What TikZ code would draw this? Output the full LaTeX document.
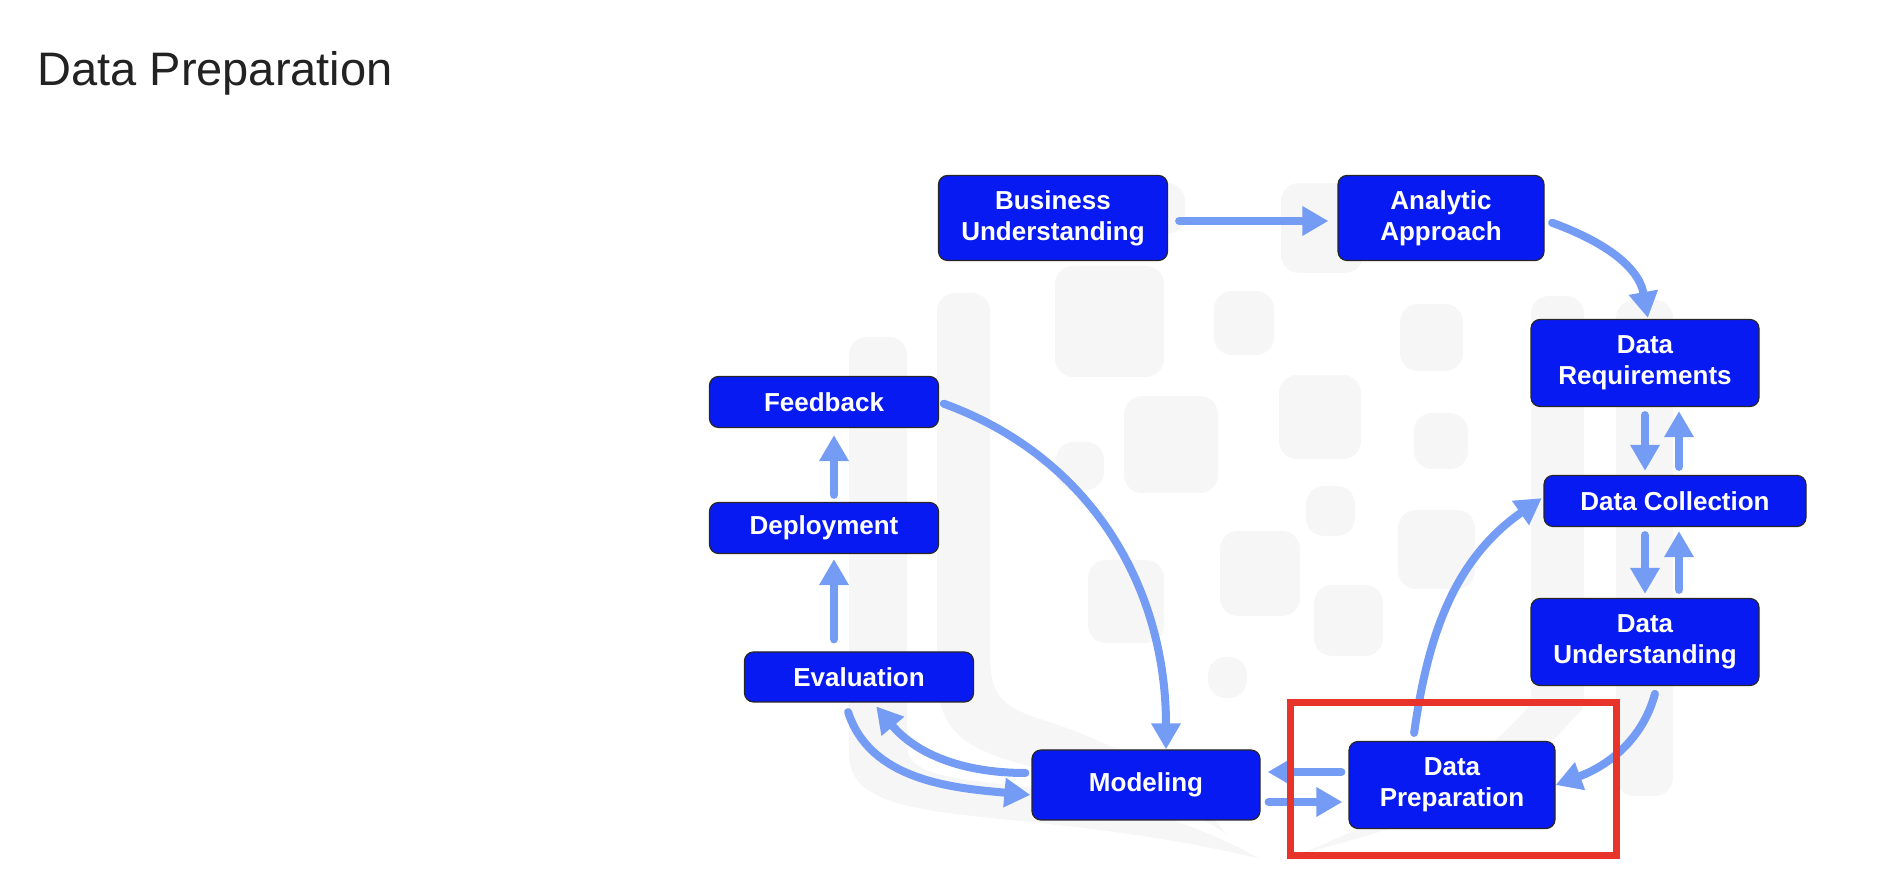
\documentclass[tikz,border=0pt]{standalone}
\usepackage{fontspec}
\setmainfont{Liberation Sans}
\usepackage{xcolor}
\usetikzlibrary{arrows.meta}
\definecolor{boxblue}{RGB}{8,26,242}
\definecolor{flowblue}{RGB}{117,156,245}
\definecolor{markred}{RGB}{232,51,42}
\definecolor{wmgray}{RGB}{246,246,246}
\definecolor{titlegray}{RGB}{34,34,34}

\begin{document}
\begin{tikzpicture}[
  x=0.5pt,y=0.5pt,
  box/.style={draw=black!85,line width=0.6pt,fill=boxblue,rounded corners=4.5pt,align=center,text=white,
    font=\bfseries\fontsize{13}{15.5}\selectfont,inner sep=0pt},
  arrow/.style={-{Triangle[length=13pt,width=14pt]},line width=4pt,draw=flowblue,line cap=round,
    shorten <=4pt,shorten >=2pt},
  wm/.style={fill=wmgray,rounded corners=9pt}
]
\useasboundingbox (0,0) rectangle (1892,894);

\fill[wm] (1055,517) rectangle (1164,628);
\fill[wm] (1214,539) rectangle (1274,603);
\fill[wm] (1400,523) rectangle (1463,590);
\fill[wm] (1281,621) rectangle (1363,711);
\fill[wm] (1120,660) rectangle (1185,711);
\fill[wm] (1124,401) rectangle (1218,498);
\fill[wm] (1279,435) rectangle (1361,519);
\fill[wm] (1056,404) rectangle (1104,452);
\fill[wm] (1414,425) rectangle (1468,481);
\fill[wm] (1306,358) rectangle (1355,408);
\fill[wm] (1220,278) rectangle (1300,363);
\fill[wm] (1398,305) rectangle (1475,384);
\fill[wm] (1088,251) rectangle (1164,334);
\fill[wm] (1314,238) rectangle (1383,309);
\fill[wm] (1208,196) rectangle (1247,237);
\fill[wm] (849,120) rectangle (907,557);
\fill[wm] (937,200) rectangle (990,601);
\fill[wm] (1531,175) rectangle (1584,598);
\fill[wm] (1616,98) rectangle (1673,594);
\fill[wmgray] (849,140) .. controls (849,95) and (900,85) .. (1000,75)
  .. controls (1100,65) and (1180,55) .. (1260,35)
  .. controls (1190,75) and (1100,100) .. (1000,110)
  .. controls (930,118) and (907,125) .. (907,150) -- cycle;
\fill[wmgray] (937,220) .. controls (937,150) and (980,140) .. (1060,120)
  .. controls (1140,100) and (1200,80) .. (1226,60)
  .. controls (1190,110) and (1120,150) .. (1040,175)
  .. controls (1000,188) and (990,200) .. (990,240) -- cycle;
\fill[wmgray] (1300,40) .. controls (1420,70) and (1530,110) .. (1584,190)
  -- (1531,190) .. controls (1480,130) and (1400,80) .. (1300,40) -- cycle;

\node[anchor=base west,inner sep=0pt,text=titlegray,font=\fontsize{23.5}{28}\selectfont] (title) at (37,808) {Data Preparation};

\node[box,minimum width=114.5pt,minimum height=42.5pt] (bu) at (1053,676) {Business\\Understanding};
\node[box,minimum width=103pt,minimum height=42.5pt] (aa) at (1441,676) {Analytic\\Approach};
\node[box,minimum width=114pt,minimum height=43.5pt] (dr) at (1645,531) {Data\\Requirements};
\node[box,minimum width=131pt,minimum height=25.5pt] (dc) at (1675,393) {Data Collection};
\node[box,minimum width=114pt,minimum height=43.5pt] (du) at (1645,252) {Data\\Understanding};
\node[box,minimum width=103pt,minimum height=43.5pt] (dp) at (1452,109) {Data\\Preparation};
\node[box,minimum width=114pt,minimum height=35pt] (mod) at (1146,109) {Modeling};
\node[box,minimum width=114.5pt,minimum height=25pt] (ev) at (859,217) {Evaluation};
\node[box,minimum width=114.5pt,minimum height=25.5pt] (dep) at (824,366) {Deployment};
\node[box,minimum width=114.5pt,minimum height=25.5pt] (fb) at (824,492) {Feedback};

\draw[arrow,shorten <=5.5pt,shorten >=4.5pt] ([yshift=-1.5pt]bu.east) -- ([yshift=-1.5pt]aa.west);
\draw[arrow,shorten >=0.5pt] ([yshift=-1pt]aa.east) to[out=-20,in=100] ([xshift=1.5pt]dr.north);
\draw[arrow] (dr.south) -- (dr.south |- dc.north);
\draw[arrow] ([xshift=17pt]dr.south |- dc.north) -- ([xshift=17pt]dr.south);
\draw[arrow] (du.north |- dc.south) -- (du.north);
\draw[arrow] ([xshift=17pt]du.north) -- ([xshift=17pt]du.north |- dc.south);
\draw[arrow,shorten >=0pt] ([xshift=6pt]du.south) to[out=-105,in=20] (dp.east);
\draw[arrow,shorten >=1pt] ([xshift=-19.5pt]dp.north) to[out=82,in=-145] ([yshift=2pt]dc.west);
\draw[arrow,shorten <=3.5pt,shorten >=3.5pt] ([yshift=6.5pt]dp.west) -- ([yshift=6.5pt]dp.west -| mod.east);
\draw[arrow,shorten <=4pt,shorten >=3pt] ([yshift=-8.5pt]mod.east) -- ([yshift=-8.5pt]mod.east -| dp.west);
\draw[arrow,shorten <=3pt,shorten >=2.5pt] ([yshift=6pt]mod.west) to[out=180,in=-50] ([xshift=7pt]ev.south);
\draw[arrow,shorten <=5pt,shorten >=0.5pt] ([xshift=-7pt]ev.south) to[out=-72,in=175] ([yshift=-5pt]mod.west);
\draw[arrow,shorten <=6pt,shorten >=2.5pt] ([xshift=5pt]dep.south |- ev.north) -- ([xshift=5pt]dep.south);
\draw[arrow,shorten <=3.5pt,shorten >=3.5pt] ([xshift=5pt]dep.north) -- ([xshift=5pt]fb.south);
\draw[arrow,shorten <=2.5pt,shorten >=0pt] (fb.east) to[out=-20,in=90] ([xshift=10pt]mod.north);

\draw[markred,line width=3.5pt] (1290,38) rectangle (1616,191);
\end{tikzpicture}
\end{document}
